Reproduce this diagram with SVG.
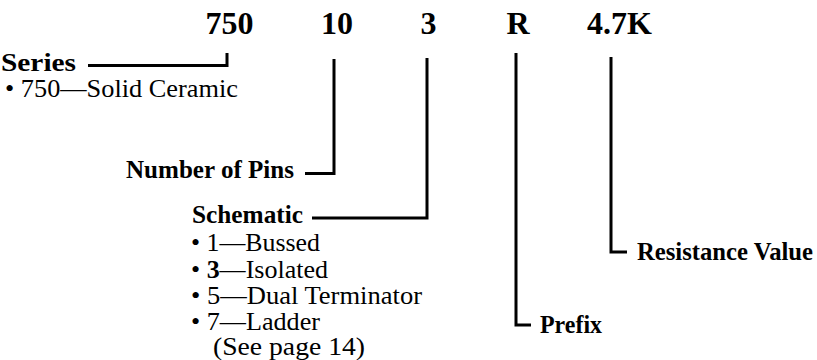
<svg xmlns="http://www.w3.org/2000/svg" width="817" height="360" viewBox="0 0 817 360">
<style>
.code{font-family:"Liberation Serif","Times New Roman",serif;font-weight:bold;font-size:32px;fill:#000;text-anchor:middle}
.lbl{font-family:"Liberation Serif","Times New Roman",serif;font-weight:bold;font-size:25px;fill:#000}
.txt{font-family:"Liberation Serif","Times New Roman",serif;font-size:25px;fill:#000}
.b{font-weight:bold}
.conn{fill:none;stroke:#000;stroke-width:3;stroke-linecap:butt;stroke-linejoin:miter}
</style>
<rect width="817" height="360" fill="#fff"/>
<g id="code">
<text class="code" x="229.5" y="34">750</text>
<text class="code" x="337" y="34">10</text>
<text class="code" x="428.5" y="34">3</text>
<text class="code" x="518" y="34">R</text>
<text class="code" x="619.5" y="34">4.7K</text>
</g>
<g id="connectors">
<path class="conn" d="M88,65.5 H227 V53"/>
<path class="conn" d="M305,173.5 H334 V59"/>
<path class="conn" d="M312,218 H427 V58"/>
<path class="conn" d="M531,325 H516 V53"/>
<path class="conn" d="M627,252 H611 V57"/>
</g>
<g id="series">
<text class="lbl" x="1" y="71" textLength="75" lengthAdjust="spacingAndGlyphs">Series</text>
<text class="txt" x="5" y="97" textLength="233" lengthAdjust="spacingAndGlyphs">• 750—Solid Ceramic</text>
</g>
<g id="pins">
<text class="lbl" x="126" y="178" textLength="168" lengthAdjust="spacingAndGlyphs">Number of Pins</text>
</g>
<g id="schematic">
<text class="lbl" x="192" y="223" textLength="111" lengthAdjust="spacingAndGlyphs">Schematic</text>
<text class="txt" x="191" y="251" textLength="129" lengthAdjust="spacingAndGlyphs">• 1—Bussed</text>
<text class="txt" x="191" y="277.5" textLength="137" lengthAdjust="spacingAndGlyphs">• <tspan class="b">3</tspan>—Isolated</text>
<text class="txt" x="191" y="304" textLength="231" lengthAdjust="spacingAndGlyphs">• 5—Dual Terminator</text>
<text class="txt" x="191" y="330" textLength="129" lengthAdjust="spacingAndGlyphs">• 7—Ladder</text>
<text class="txt" x="213" y="355" textLength="152" lengthAdjust="spacingAndGlyphs">(See page 14)</text>
</g>
<g id="prefix">
<text class="lbl" x="540" y="333" textLength="62" lengthAdjust="spacingAndGlyphs">Prefix</text>
</g>
<g id="resistance">
<text class="lbl" x="637" y="260" textLength="176" lengthAdjust="spacingAndGlyphs">Resistance Value</text>
</g>
</svg>
